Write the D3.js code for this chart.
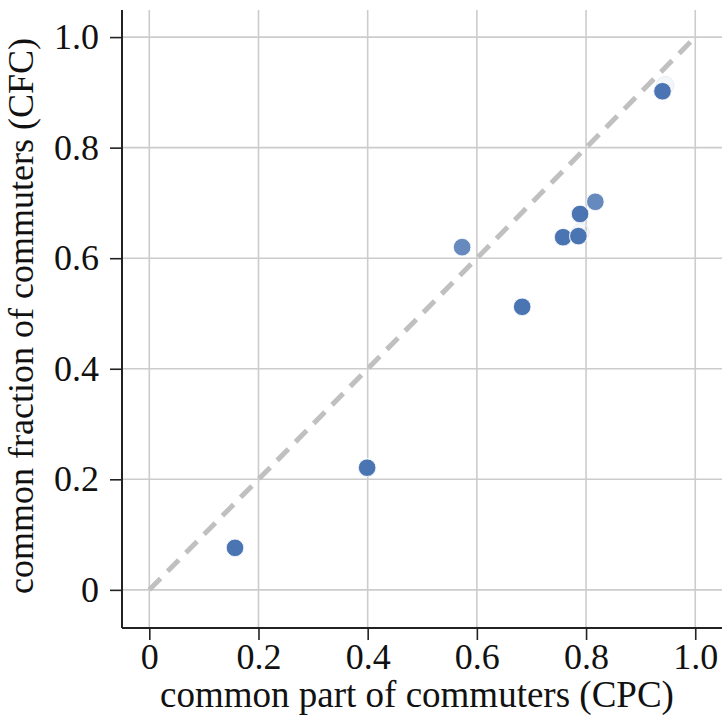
<!DOCTYPE html>
<html><head><meta charset="utf-8">
<script src="https://cdn.jsdelivr.net/npm/d3@7"></script>
<style>html,body{margin:0;padding:0;background:#fff;}</style>
</head><body>
<script>
// observations (coincident observations repeated)
const cpc = [0.157, 0.157, 0.399, 0.399, 0.573, 0.683, 0.683, 0.758, 0.758, 0.786, 0.786, 0.789, 0.789, 0.817, 0.940, 0.940];
const cfc = [0.076, 0.076, 0.221, 0.221, 0.620, 0.512, 0.512, 0.638, 0.638, 0.640, 0.640, 0.680, 0.680, 0.702, 0.902, 0.902];
// faint, nearly hidden observations
const ghostCpc = [0.790, 0.945];
const ghostCfc = [0.647, 0.913];
const tickValues = [0, 0.2, 0.4, 0.6, 0.8, 1.0];
const tickLabels = ["0", "0.2", "0.4", "0.6", "0.8", "1.0"];
const xTitle = "common part of commuters (CPC)";
const yTitle = "common fraction of commuters (CFC)";

(function () {
const W = 725, H = 717;
const pL = 122, pR = 722, pT = 10, pB = 628;
const FONT = "'Liberation Serif', 'Times New Roman', serif";
const x = d3.scaleLinear().domain([-0.05, 1.049]).range([pL, pR]);
const y = d3.scaleLinear().domain([-0.069, 1.049]).range([pB, pT]);

const svg = d3.select("body").append("svg").attr("width", W).attr("height", H)
  .style("font-family", FONT);

svg.append("g").selectAll("line").data(tickValues).join("line")
  .attr("x1", d => x(d)).attr("x2", d => x(d)).attr("y1", pT).attr("y2", pB)
  .attr("stroke", "#cccccc").attr("stroke-width", 1.6);
svg.append("g").selectAll("line").data(tickValues).join("line")
  .attr("y1", d => y(d)).attr("y2", d => y(d)).attr("x1", pL).attr("x2", pR)
  .attr("stroke", "#cccccc").attr("stroke-width", 1.6);

svg.append("line").attr("x1", x(0)).attr("y1", y(0)).attr("x2", x(1)).attr("y2", y(1))
  .attr("stroke", "#c0c0c0").attr("stroke-width", 5).attr("stroke-dasharray", "16,10");

const ghosts = ghostCpc.map((v, i) => ({x: v, y: ghostCfc[i]}));
svg.append("g").selectAll("circle").data(ghosts).join("circle")
  .attr("cx", d => x(d.x)).attr("cy", d => y(d.y)).attr("r", 8.8)
  .attr("fill", "#4C72B0").attr("fill-opacity", 0.06)
  .attr("stroke", "#e8edf6").attr("stroke-width", 1);

const pts = cpc.map((v, i) => ({x: v, y: cfc[i]}));
svg.append("g").selectAll("circle").data(pts).join("circle")
  .attr("cx", d => x(d.x)).attr("cy", d => y(d.y)).attr("r", 8.8)
  .attr("fill", "#4470b0").attr("fill-opacity", 0.82)
  .attr("stroke", "#fff").attr("stroke-width", 0.8);

const xAxis = d3.axisBottom(x).tickValues(tickValues).tickFormat((d, i) => tickLabels[i]).tickSize(12).tickPadding(3);
const yAxis = d3.axisLeft(y).tickValues(tickValues).tickFormat((d, i) => tickLabels[i]).tickSize(12).tickPadding(11);
const gx = svg.append("g").attr("transform", `translate(0,${pB})`).call(xAxis);
const gy = svg.append("g").attr("transform", `translate(${pL},0)`).call(yAxis);
gx.select(".domain").attr("d", `M${pL},0H${pR}`);
gy.select(".domain").attr("d", `M0,${pT}V${pB}`);
[gx, gy].forEach(g => {
  g.attr("font-family", FONT);
  g.select(".domain").attr("stroke", "#222").attr("stroke-width", 2);
  g.selectAll(".tick line").attr("stroke", "#222").attr("stroke-width", 1.6);
  g.selectAll(".tick text").attr("fill", "#111").style("font-size", "36px")
    .style("font-family", FONT);
});

svg.append("text").attr("x", 417).attr("y", 707).attr("text-anchor", "middle")
  .style("font-family", FONT).style("font-size", "37px").attr("fill", "#111").text(xTitle);
svg.append("text").attr("transform", `translate(33,316) rotate(-90)`)
  .attr("text-anchor", "middle").style("font-family", FONT)
  .style("font-size", "36px").attr("fill", "#111").text(yTitle);
})();
</script>
</body></html>
